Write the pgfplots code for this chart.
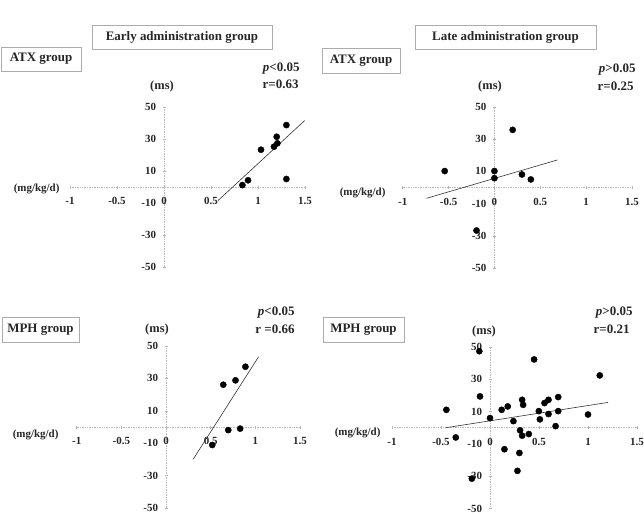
\documentclass[border=0pt]{standalone}
\usepackage{pgfplots}
\pgfplotsset{compat=1.18}
\usepackage{fontspec}
\setmainfont{Liberation Serif}
\usetikzlibrary{shadows}

\pgfplotsset{
  panel/.style={
    scale only axis,
    anchor=south west,
    axis lines=middle,
    axis line style={-, gray!55, densely dotted, line width=0.7bp},
    xmin=-1, xmax=1.5, ymin=-50, ymax=50,
    xtick={-1,-0.5,0,0.5,1,1.5},
    xticklabels={-1,-0.5,0,0.5,1,1.5},
    ytick={-50,-30,-10,10,30,50},
    yticklabels={-50,-30,-10,10,30,50},
    hide obscured x ticks=false,
    hide obscured y ticks=false,
    tick style={gray!60, line width=0.5bp},
    major tick length=3bp,
    ticklabel style={font=\fontsize{11}{12}\selectfont\bfseries, text=black!85},
    xticklabel style={yshift=-5.5bp},
    yticklabel style={xshift=-3bp},
    clip=false,
  },
  dots/.style={only marks, mark=*, mark size=3.1bp, black, mark options={fill=black}},
  fit/.style={no marks, black!80, line width=0.6bp},
}

\tikzset{
  box/.style={draw=gray!65, line width=1bp, fill=white, inner sep=0pt,
    drop shadow={shadow xshift=1bp, shadow yshift=-1bp, opacity=0.35},
    font=\fontsize{13}{14}\selectfont\bfseries, text=black!85},
  stat/.style={anchor=east, font=\fontsize{13}{14}\selectfont\bfseries, text=black!85},
  unit/.style={font=\fontsize{12.5}{13}\selectfont\bfseries, text=black!85},
  dose/.style={anchor=east, font=\fontsize{11}{12}\selectfont\bfseries, text=black!85},
}

\begin{document}
\begin{tikzpicture}
\path[use as bounding box] (0bp,0bp) rectangle (644bp,-515bp);

% ---------------- ATX, early administration ----------------
\begin{axis}[panel, at={(70bp,-267bp)}, width=235bp, height=160bp]
\addplot[dots] coordinates {
  (1.302,38.7) (1.199,31.4) (1.206,27.3) (1.170,25.2) (1.032,23.3)
  (0.894,4.2) (0.834,1.2) (1.302,5.0)
};
\addplot[fit] coordinates {(0.574,-8.5) (1.496,41.5)};
\end{axis}

% ---------------- ATX, late administration ----------------
\begin{axis}[panel, at={(402.7bp,-268bp)}, width=229.3bp, height=161bp]
\addplot[dots] coordinates {
  (0.199,35.8) (-0.542,10.2) (0,10.2) (0,5.8) (0.300,8.1) (0.397,5.0)
  (-0.195,-26.7)
};
\addplot[fit] coordinates {(-0.740,-6.7) (0.686,17.1)};
\end{axis}

% ---------------- MPH, early administration ----------------
\begin{axis}[panel, at={(76.7bp,-508bp)}, width=223.3bp, height=162bp]
\addplot[dots] coordinates {
  (0.889,37.2) (0.778,28.8) (0.641,26.1) (0.697,-1.9) (0.830,-1.0)
  (0.518,-11.1)
};
\addplot[fit] coordinates {(0.304,-19.9) (1.037,43.4)};
\end{axis}

% ---------------- MPH, late administration ----------------
\begin{axis}[panel, at={(392bp,-508.5bp)}, width=245bp, height=161.5bp]
\addplot[dots] coordinates {
  (-0.445,11.1) (-0.349,-6.0) (-0.185,-31.5) (-0.109,47.4) (-0.102,19.4)
  (0,6.0) (0.119,11.1) (0.147,-13.3) (0.181,13.2) (0.239,4.1)
  (0.280,-26.7) (0.300,-15.6) (0.307,-1.6) (0.328,-4.9) (0.328,17.3)
  (0.338,14.2) (0.396,-3.9) (0.450,42.3) (0.498,10.3) (0.509,5.2)
  (0.556,15.3) (0.597,17.3) (0.597,8.5) (0.669,1.0) (0.696,19.0)
  (0.696,10.3) (1.000,8.2) (1.120,32.4)
};
\addplot[fit] coordinates {(-0.452,0) (1.205,15.7)};
\end{axis}

% headers
\node[box, minimum width=180bp, minimum height=24bp] at (182bp,-37bp) {Early administration group};
\node[box, minimum width=181bp, minimum height=24bp] at (505.5bp,-37bp) {Late administration group};
\node[box, minimum width=80bp, minimum height=24bp] at (41bp,-59bp) {ATX group};
\node[box, minimum width=78bp, minimum height=25bp] at (361bp,-60.5bp) {ATX group};
\node[box, minimum width=77bp, minimum height=25bp] at (40.5bp,-329.5bp) {MPH group};
\node[box, minimum width=81bp, minimum height=25bp] at (363.5bp,-329.5bp) {MPH group};

% statistics
\node[stat] at (303bp,-69bp) {\textit{p}<0.05};
\node[stat] at (302bp,-84bp) {r=0.63};
\node[stat] at (639bp,-70bp) {\textit{p}>0.05};
\node[stat] at (637bp,-86bp) {r=0.25};
\node[stat] at (298bp,-313bp) {\textit{p}<0.05};
\node[stat] at (298bp,-329bp) {r =0.66};
\node[stat] at (636bp,-313bp) {\textit{p}>0.05};
\node[stat] at (633bp,-329bp) {r=0.21};

% axis units
\node[unit] at (162bp,-87bp) {(ms)};
\node[unit] at (490bp,-87bp) {(ms)};
\node[unit] at (157bp,-330bp) {(ms)};
\node[unit] at (484bp,-332bp) {(ms)};
\node[dose] at (63bp,-189bp) {(mg/kg/d)};
\node[dose] at (389bp,-193bp) {(mg/kg/d)};
\node[dose] at (62bp,-435bp) {(mg/kg/d)};
\node[dose] at (384bp,-433bp) {(mg/kg/d)};
\end{tikzpicture}
\end{document}
